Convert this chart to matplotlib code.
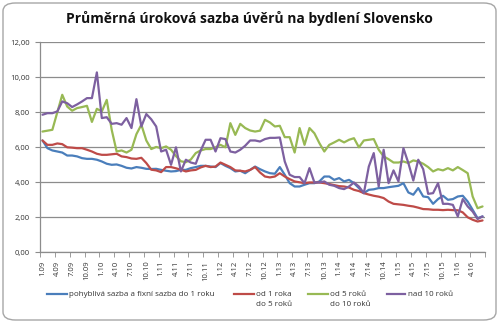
import numpy as np
import matplotlib
matplotlib.use("Agg")
import matplotlib.pyplot as plt
from matplotlib.patches import FancyBboxPatch
from matplotlib.lines import Line2D

# monthly average rates 1.09 - 6.16
pohybliva = [6.39, 5.95, 5.82, 5.76, 5.70, 5.53, 5.53, 5.48, 5.38, 5.34,
             5.34, 5.29, 5.19, 5.06, 5.00, 5.02, 4.94, 4.83, 4.79, 4.87,
             4.83, 4.77, 4.76, 4.77, 4.71, 4.66, 4.62, 4.64, 4.71, 4.71,
             4.81, 4.87, 4.94, 4.94, 4.90, 4.87, 5.10, 4.94, 4.81, 4.62,
             4.66, 4.52, 4.71, 4.90, 4.75, 4.62, 4.52, 4.49, 4.87, 4.43,
             3.95, 3.76, 3.76, 3.86, 3.95, 3.95, 4.05, 4.33, 4.33, 4.14,
             4.24, 4.05, 4.14, 3.95, 3.67, 3.38, 3.57, 3.60, 3.67, 3.67,
             3.72, 3.76, 3.80, 3.95, 3.42, 3.29, 3.67, 3.19, 3.15, 2.77,
             3.04, 3.23, 3.00, 3.04, 3.19, 3.23, 2.90, 2.43, 1.95, 2.05]
fix_1_5 = [6.39, 6.14, 6.14, 6.22, 6.18, 6.00, 5.98, 5.95, 5.95, 5.86,
           5.76, 5.63, 5.57, 5.57, 5.60, 5.63, 5.48, 5.44, 5.36, 5.34,
           5.40, 5.10, 4.72, 4.68, 4.58, 4.87, 4.87, 4.80, 4.72, 4.62,
           4.68, 4.71, 4.85, 4.94, 4.87, 4.90, 5.13, 5.00, 4.87, 4.68,
           4.66, 4.62, 4.71, 4.87, 4.56, 4.33, 4.28, 4.33, 4.52, 4.33,
           4.18, 4.05, 4.00, 3.95, 3.99, 3.99, 3.99, 3.95, 3.90, 3.84,
           3.78, 3.76, 3.70, 3.57, 3.50, 3.38, 3.30, 3.23, 3.18, 3.10,
           2.90, 2.77, 2.74, 2.71, 2.66, 2.62, 2.55, 2.47, 2.46, 2.43,
           2.43, 2.41, 2.43, 2.41, 2.40, 2.28, 2.00, 1.86, 1.76, 1.82]
fix_5_10 = [6.90, 6.95, 7.00, 8.00, 9.00, 8.33, 8.09, 8.24, 8.30, 8.37,
            7.45, 8.20, 8.05, 8.71, 7.00, 5.76, 5.82, 5.70, 5.86, 6.75,
            7.29, 6.39, 5.90, 6.02, 5.95, 6.05, 5.86, 5.50, 5.20, 5.15,
            5.30, 5.67, 5.82, 5.90, 5.90, 6.00, 6.14, 6.00, 7.38, 6.71,
            7.34, 7.10, 6.96, 6.90, 6.95, 7.57, 7.42, 7.19, 7.23, 6.58,
            6.58, 5.70, 7.10, 6.14, 7.10, 6.80, 6.24, 5.76, 6.14, 6.28,
            6.43, 6.28, 6.43, 6.52, 6.00, 6.39, 6.43, 6.47, 5.86, 5.48,
            5.32, 5.13, 5.13, 5.19, 5.10, 5.25, 5.19, 5.06, 4.87, 4.62,
            4.75, 4.68, 4.81, 4.68, 4.87, 4.70, 4.52, 3.19, 2.52, 2.62]
nad_10 = [7.86, 7.95, 7.95, 8.05, 8.62, 8.52, 8.30, 8.45, 8.62, 8.81,
          8.81, 10.28, 7.67, 7.72, 7.34, 7.38, 7.29, 7.67, 7.10, 8.75,
          7.19, 7.90, 7.60, 7.19, 5.76, 5.86, 5.00, 6.00, 4.62, 5.29,
          5.13, 5.06, 5.82, 6.43, 6.43, 5.76, 6.52, 6.47, 5.76, 5.70,
          5.86, 6.09, 6.39, 6.39, 6.33, 6.47, 6.54, 6.54, 6.56, 5.19,
          4.43, 4.30, 4.30, 3.95, 4.81, 3.99, 3.99, 4.05, 3.86, 3.80,
          3.67, 3.61, 3.76, 3.99, 3.76, 3.38, 4.90, 5.67, 3.76, 5.86,
          3.95, 4.68, 4.05, 5.95, 5.10, 4.10, 5.29, 4.75, 3.34, 3.38,
          3.95, 2.77, 2.77, 2.71, 2.05, 3.04, 2.62, 2.33, 1.90, 2.05]

tick_labels = ["1.09", "4.09", "7.09", "10.09", "1.10", "4.10", "7.10", "10.10",
               "1.11", "4.11", "7.11", "10.11", "1.12", "4.12", "7.12", "10.12",
               "1.13", "4.13", "7.13", "10.13", "1.14", "4.14", "7.14", "10.14",
               "1.15", "4.15", "7.15", "10.15", "1.16", "4.16"]
y_ticks = [0, 2, 4, 6, 8, 10, 12]

series = [
    (pohybliva, "#4a7ebb", ["pohyblivá sazba a fixní sazba do 1 roku"]),
    (fix_1_5, "#be4b48", ["od 1 roka", "do 5 roků"]),
    (fix_5_10, "#98b954", ["od 5 roků", "do 10 roků"]),
    (nad_10, "#7d60a0", ["nad 10 roků"]),
]

plt.rcParams['font.family'] = ['Open Sans', 'DejaVu Sans']
W, H = 499, 323
fig = plt.figure(figsize=(W / 100, H / 100), dpi=100)

# chart area frame, kept behind the axes
frame = FancyBboxPatch((3 / W, 3 / H), 1 - 6 / W, 1 - 6 / H,
                       boxstyle="round,pad=0,rounding_size=0.025",
                       transform=fig.transFigure, facecolor="white",
                       edgecolor="#a6a6a6", linewidth=1.0, zorder=-10)
fig.patches.append(frame)

ax = fig.add_axes([40 / W, 1 - 252.3 / H, 445 / W, 210 / H])
ax.set_zorder(1)
ax.set_facecolor("white")

x = np.arange(len(pohybliva))
for vals, col, _ in series:
    ax.plot(x, vals, color=col, linewidth=1.6, solid_joinstyle="round",
            solid_capstyle="round")

ax.set_xlim(-0.5, len(x) - 0.5)
ax.set_ylim(0, 12)
ax.set_yticks(y_ticks)
ax.set_yticklabels([f"{v:.2f}".replace(".", ",") for v in y_ticks],
                   fontsize=5.5, color="#333333")
ax.grid(axis="y", color="#8c8c8c", linewidth=0.9)
ax.set_axisbelow(True)

ax.set_xticks(np.arange(0, len(x), 3))
ax.set_xticklabels(tick_labels, rotation=90, fontsize=5.5, color="#333333")
ax.set_xticks(np.arange(-0.5, len(x), 3), minor=True)
ax.tick_params(axis="x", which="major", length=0, pad=6)
ax.tick_params(axis="x", which="minor", length=3.5, color="#8c8c8c")
ax.tick_params(axis="y", length=3.5, color="#8c8c8c", pad=4)

for side in ["top", "right"]:
    ax.spines[side].set_visible(False)
for side in ["left", "bottom"]:
    ax.spines[side].set_color("#8c8c8c")
    ax.spines[side].set_linewidth(0.9)

fig.text(0.5, 1 - 19 / H, "Průměrná úroková sazba úvěrů na bydlení Slovensko",
         ha="center", va="center", fontsize=10, fontweight="bold", color="#111111")

# legend drawn below the plot
leg_pos = [(47, 67, 69), (234, 254, 256), (308, 328, 330), (387, 405, 408)]
for (vals, col, lines), (x0, x1, tx) in zip(series, leg_pos):
    fig.add_artist(Line2D([x0 / W, x1 / W], [1 - 294 / H, 1 - 294 / H],
                          color=col, linewidth=1.6, transform=fig.transFigure))
    for k, line in enumerate(lines):
        fig.text(tx / W, 1 - (294 + 11 * k) / H, line, ha="left", va="center",
                 fontsize=5.8, color="#333333")

fig.savefig("out.png", dpi=100)
